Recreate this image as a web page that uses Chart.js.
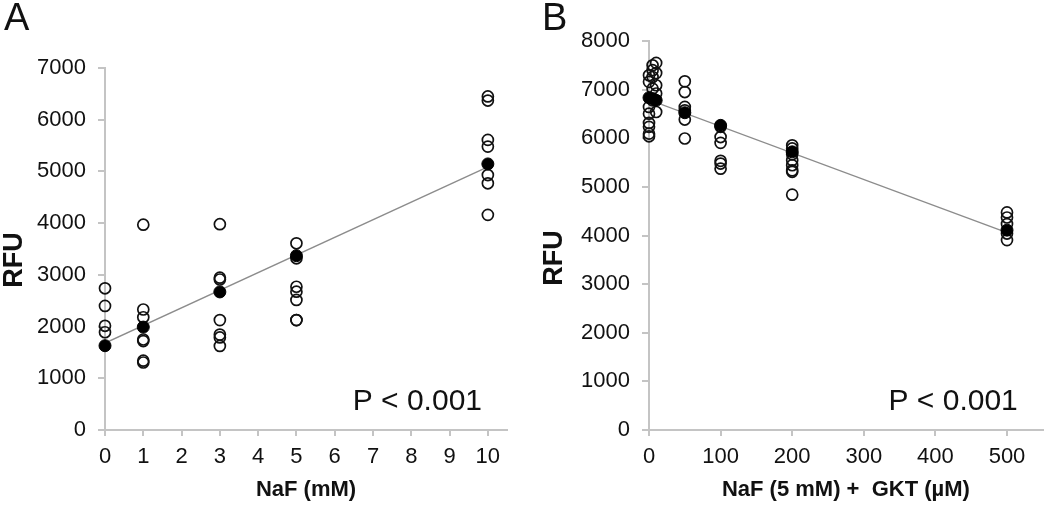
<!DOCTYPE html>
<html>
<head>
<meta charset="utf-8">
<script src="https://cdn.jsdelivr.net/npm/chart.js@4"></script>
<style>
  body { margin: 0; background: #fff; }
  .panel { position: absolute; top: 0; width: 525px; height: 506px; }
</style>
</head>
<body>
<div class="panel" style="left:0"><canvas id="chartA" width="525" height="506"></canvas></div>
<div class="panel" style="left:525px"><canvas id="chartB" width="525" height="506"></canvas></div>
<script>
// Panel A: NaF dose (mM) vs RFU
var doseA = [0, 0, 0, 0,
             1, 1, 1, 1, 1, 1, 1,
             3, 3, 3, 3, 3, 3, 3,
             5, 5, 5, 5, 5, 5, 5,
             10, 10, 10, 10, 10, 10, 10];
var rfuA  = [2740, 2400, 2015, 1890,
             3970, 2330, 2180, 1750, 1720, 1340, 1305,
             3980, 2945, 2910, 2125, 1845, 1790, 1625,
             3610, 3320, 2770, 2675, 2515, 2125, 2125,
             6450, 6370, 5610, 5480, 4930, 4770, 4160];
var meanDoseA = [0, 1, 3, 5, 10];
var meanRfuA  = [1630, 1990, 2670, 3370, 5145];
var fitDoseA = [0, 10];
var fitRfuA  = [1680, 5090];
var xTicksA = [0, 1, 2, 3, 4, 5, 6, 7, 8, 9, 10];

// Panel B: NaF 5 mM + GKT (uM) vs RFU
var doseB = [0, 0, 0, 0, 0, 0, 0, 0,
             5, 5, 5, 5, 5,
             10, 10, 10, 10, 10,
             50, 50, 50, 50, 50, 50,
             100, 100, 100, 100, 100, 100,
             200, 200, 200, 200, 200, 200, 200, 200,
             500, 500, 500, 500, 500];
var rfuB  = [7295, 7160, 6645, 6505, 6315, 6235, 6095, 6040,
             7500, 7400, 7260, 7020, 6780,
             7550, 7340, 7090, 6920, 6540,
             7170, 6950, 6645, 6575, 6385, 5995,
             6235, 6025, 5905, 5535, 5480, 5375,
             5855, 5790, 5670, 5550, 5445, 5340, 5310, 4840,
             4475, 4370, 4235, 4040, 3905];
var meanDoseB = [0, 5, 10, 50, 100, 200, 500];
var meanRfuB  = [6835, 6815, 6780, 6525, 6265, 5720, 4110];
var fitDoseB = [0, 500];
var fitRfuB  = [6790, 4060];
var xTicksB = [0, 100, 200, 300, 400, 500];

var FONT = "'Liberation Sans', Arial, sans-serif";
var AXIS = '#c4c4c4';
var INK = '#111';

function pairs(xs, ys) {
  return xs.map(function (x, i) { return { x: x, y: ys[i] }; });
}

// panel letter, rotated axis label and p-value text
var panelText = {
  id: 'panelText',
  afterDraw: function (chart, args, opts) {
    var ctx = chart.ctx, a = chart.chartArea;
    ctx.save();
    ctx.fillStyle = '#111';
    ctx.textBaseline = 'alphabetic';
    ctx.font = '38px ' + FONT;
    ctx.textAlign = 'left';
    ctx.fillText(opts.letter, opts.letterX, 30);
    ctx.font = '30px ' + FONT;
    ctx.textAlign = 'right';
    ctx.fillText(opts.p, a.right - 25, 410);
    // y axis title
    ctx.translate(opts.yTitleX, opts.yTitleY);
    ctx.rotate(-Math.PI / 2);
    ctx.font = 'bold 27px ' + FONT;
    ctx.textAlign = 'center';
    ctx.textBaseline = 'middle';
    ctx.fillText(opts.yTitle, 0, 0);
    ctx.restore();
  }
};

function makeChart(id, s) {
  return new Chart(document.getElementById(id), {
    type: 'scatter',
    data: {
      datasets: [
        {
          label: 'mean',
          data: pairs(s.meanX, s.meanY),
          pointRadius: 6,
          pointBackgroundColor: '#000',
          pointBorderColor: '#000',
          borderWidth: 1,
          clip: false
        },
        {
          label: 'samples',
          data: pairs(s.x, s.y),
          pointRadius: 5.5,
          pointBackgroundColor: 'rgba(0,0,0,0)',
          pointBorderColor: '#111',
          pointBorderWidth: 1.7,
          clip: false
        },
        {
          label: 'fit',
          type: 'line',
          data: pairs(s.fitX, s.fitY),
          borderColor: '#8c8c8c',
          borderWidth: 1.4,
          pointRadius: 0,
          fill: false
        }
      ]
    },
    options: {
      responsive: false,
      animation: false,
      layout: { padding: { top: s.padTop, right: s.padRight, left: 0, bottom: 0 } },
      plugins: {
        legend: { display: false },
        tooltip: { enabled: false },
        panelText: { letter: s.letter, letterX: s.letterX, p: 'P < 0.001',
                     yTitle: 'RFU', yTitleX: s.yTitleX, yTitleY: s.yTitleY }
      },
      scales: {
        x: {
          type: 'linear',
          min: 0,
          max: s.xMax,
          afterBuildTicks: function (scale) {
            scale.ticks = s.xTicks.map(function (v) { return { value: v }; });
          },
          afterFit: function (scale) { scale.height = 76; },
          grid: { drawOnChartArea: false, color: AXIS, lineWidth: 2, tickLength: 6 },
          border: { color: AXIS, width: 2 },
          ticks: { color: INK, font: { family: FONT, size: 22 }, padding: 8, maxRotation: 0,
                   callback: function (v) { return String(v); } },
          title: {
            display: true,
            text: s.xTitle,
            color: '#111',
            font: { family: FONT, size: 22, weight: 'bold', lineHeight: 1 },
            padding: { top: 0, bottom: 5 }
          }
        },
        y: {
          min: 0,
          max: s.yMax,
          afterFit: function (scale) { scale.width = s.yWidth; },
          grid: { drawOnChartArea: false, color: AXIS, lineWidth: 2, tickLength: 7 },
          border: { color: AXIS, width: 2 },
          ticks: { stepSize: 1000, color: INK, font: { family: FONT, size: 22 }, padding: 12,
                   callback: function (v) { return String(v); } }
        }
      }
    },
    plugins: [panelText]
  });
}

makeChart('chartA', {
  x: doseA, y: rfuA, meanX: meanDoseA, meanY: meanRfuA, fitX: fitDoseA, fitY: fitRfuA,
  xTicks: xTicksA, xMax: 10.5, yMax: 7000, xTitle: 'NaF (mM)',
  padTop: 68, padRight: 18, yWidth: 105, yTitleX: 15, yTitleY: 260, letter: 'A', letterX: 4
});

makeChart('chartB', {
  x: doseB, y: rfuB, meanX: meanDoseB, meanY: meanRfuB, fitX: fitDoseB, fitY: fitRfuB,
  xTicks: xTicksB, xMax: 550, yMax: 8000, xTitle: 'NaF (5 mM) +  GKT (µM)',
  padTop: 41, padRight: 3, yWidth: 124, yTitleX: 30, yTitleY: 258, letter: 'B', letterX: 17
});
</script>
</body>
</html>
